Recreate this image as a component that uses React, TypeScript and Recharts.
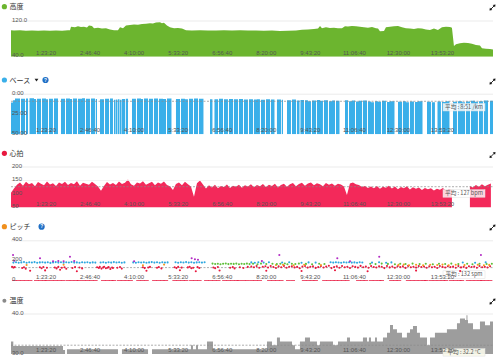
import React from "react";
import { ComposedChart, ScatterChart, Area, Scatter, XAxis, YAxis, ReferenceLine } from "recharts";

type P = [number, number];

// time unit: 100 seconds
const TIME_TICKS = [50, 100, 150, 200, 250, 300, 350, 400, 450, 500];
const X_DOMAIN: [number, number] = [10.28, 557.3];

const elevation: P[] = [[10.3,99],[13.7,98.5],[20.5,99],[27.3,98],[34.1,98.5],[41.0,98],[47.7,98.5],[54.5,98],[61.3,98.7],[68.2,98],[75.0,99],[77.2,99.5],[78.4,107],[82.9,106],[86.3,108],[89.7,106.5],[93.1,107],[96.5,105.5],[98.8,110],[102.2,109],[104.5,104],[109.0,105],[113.5,103],[118.1,103.5],[122.6,101],[127.2,99],[131.7,99.5],[134.0,106],[137.4,104],[140.8,110],[145.3,111],[149.9,112],[154.4,111.5],[159.0,113],[163.5,114],[168.0,115],[171.4,114.5],[174.8,116.5],[179.4,117],[181.6,115],[183.9,116],[187.3,110],[190.7,106],[195.3,104],[199.8,104.5],[204.3,103],[208.9,99],[215.7,98.5],[224.8,99],[233.8,98.5],[243.0,98.8],[252.0,99],[261.1,98.6],[270.2,99],[279.2,98.5],[288.3,98.7],[297.4,98],[306.5,98.5],[315.5,97.5],[324.6,98],[333.7,98.5],[340.5,100.5],[347.3,101],[354.1,102],[358.7,103],[361.0,109],[363.2,104],[367.7,106],[372.3,104.5],[376.8,105],[381.4,103.5],[385.9,104],[389.3,108],[392.7,107.5],[397.2,109],[401.8,108],[406.3,107],[410.9,106],[415.4,105],[420.0,106.5],[424.5,104],[426.8,103],[429.0,97],[433.6,97.5],[435.8,106],[440.4,107],[444.9,108],[449.5,109],[454.0,106],[458.5,104],[463.1,103],[467.6,102],[472.1,104],[476.7,103],[481.2,101],[485.8,100],[490.3,103],[494.8,100],[499.4,106],[503.9,107],[508.5,106.5],[510.7,105],[513.0,64],[515.3,68],[519.8,70],[524.3,71],[528.9,70.5],[533.4,69],[538.0,66],[542.5,65],[544.8,59],[549.3,58],[553.9,57.5],[557.3,56]];

// pace in seconds per km (3000 = 50:00, i.e. stopped)
const pace: P[] = [[10.3,620],[12.6,450],[14.8,330],[20.5,3000],[21.6,350],[26.2,3000],[27.3,330],[29.6,3000],[31.3,310],[36.4,360],[38.7,3000],[39.8,340],[44.3,3000],[45.5,320],[50.0,380],[52.3,3000],[53.4,340],[57.9,3000],[59.1,330],[63.6,3000],[67.0,350],[71.6,3000],[72.7,330],[77.2,360],[79.5,3000],[80.6,320],[85.2,3000],[86.3,340],[90.9,310],[94.3,3000],[95.4,350],[99.9,3000],[101.1,330],[105.6,3000],[106.5,360],[107.9,3000],[111.3,380],[115.8,3000],[117.0,350],[121.5,3000],[122.6,330],[126.0,3000],[127.2,420],[128.9,3000],[129.4,400],[131.1,3000],[131.7,380],[133.4,3000],[134.0,420],[135.7,3000],[136.2,360],[139.7,3000],[140.6,350],[143.1,3000],[147.6,340],[152.1,3000],[153.3,330],[157.8,360],[160.1,3000],[161.2,320],[165.8,3000],[166.9,350],[171.4,3000],[172.6,330],[177.1,3000],[178.2,340],[182.8,360],[186.2,3000],[187.3,320],[192.4,3000],[197.5,360],[202.1,3000],[203.2,340],[207.7,370],[211.1,3000],[212.3,350],[216.8,3000],[218.0,330],[222.5,3000],[223.6,350],[228.7,3000],[236.1,380],[238.9,3000],[241.2,370],[245.2,3000],[246.3,350],[250.9,3000],[252.0,380],[256.5,3000],[257.7,360],[262.2,3000],[263.3,380],[267.9,3000],[269.0,360],[273.6,3000],[274.7,390],[279.2,3000],[280.4,370],[284.9,3000],[286.0,400],[289.4,380],[292.8,3000],[294.0,420],[298.5,3000],[299.7,380],[304.2,3000],[305.3,400],[309.3,3000],[312.1,390],[316.7,3000],[317.6,420],[319.0,3000],[323.5,450],[328.0,3000],[329.2,400],[333.7,3000],[334.8,470],[337.7,3000],[338.8,430],[342.8,3000],[343.9,460],[347.3,520],[350.7,3000],[351.9,480],[356.4,3000],[357.5,440],[360.9,500],[364.3,3000],[365.5,460],[370.0,3000],[371.2,520],[374.6,470],[378.0,3000],[379.1,500],[383.1,3000],[389.3,450],[392.7,3000],[393.9,520],[397.3,480],[400.7,3000],[401.8,550],[405.2,500],[408.6,3000],[409.7,470],[414.3,3000],[415.4,540],[418.8,600],[422.2,3000],[423.4,520],[426.8,560],[430.2,3000],[431.3,500],[435.8,3000],[437.0,580],[440.4,520],[445.5,3000],[449.5,560],[454.0,3000],[455.1,520],[458.5,600],[461.9,3000],[463.1,540],[467.6,3000],[468.7,580],[472.1,520],[477.3,3000],[482.4,560],[486.9,3000],[488.0,600],[491.4,3000],[494.3,540],[498.2,3000],[499.4,580],[503.9,520],[507.9,3000],[511.9,560],[516.4,3000],[517.5,520],[522.1,600],[525.5,3000],[526.6,540],[531.2,3000],[532.3,500],[536.8,560],[540.2,3000],[541.4,520],[545.9,3000],[547.0,480],[551.6,3000],[553.9,500],[557.3,500]];

const HR_START = 10.28;
const HR_STEP = 3.404;
const hrValues: (number | null)[] = [
  105,120,134,143,131,145,136,141,129,144,
  138,132,146,135,140,130,143,137,145,133,
  141,136,147,131,142,138,134,145,137,128,
  112,130,144,135,141,133,146,137,142,154,
  136,131,143,139,147,134,140,145,132,143,
  138,146,133,129,115,137,143,132,145,136,
  128,90,140,150,135,120,132,124,134,121,
  130,126,135,122,131,127,134,123,132,128,
  136,125,133,129,137,126,134,130,138,124,
  133,138,127,136,141,129,137,142,131,139,
  143,132,140,136,129,141,134,139,131,138,
  135,128,96,139,143,136,133,126,130,122,
  128,121,130,119,127,123,131,120,128,118,
  126,121,129,117,125,119,124,115,122,118,
  121,113,119,116,122,112,118,114,
  null,null,null,null,null,
  130,124,133,127,136,129,134,139];

const cadBlue: P[] = [[13,182],[16,186],[19,180],[22,184],[25,188],[28,181],[31,185],[34,183],[37,187],[40,180],[43,184],[46,186],[49,182],[52,185],[55,179],[58,184],[61,187],[64,182],[67,185],[70,181],[73,186],[76,183],[79,188],[82,182],[85,184],[88,180],[91,186],[94,183],[97,185],[100,181],[103,184],[106,182],[112,183],[115,186],[118,181],[121,185],[124,182],[127,187],[130,183],[133,185],[136,180],[139,184],[149,184],[152,181],[155,186],[158,183],[161,185],[164,180],[167,184],[170,187],[173,182],[176,185],[179,181],[182,186],[185,183],[188,184],[197,185],[200,181],[203,186],[206,183],[209,187],[212,182],[215,185],[218,180],[221,184],[224,186],[227,182],[230,185],[283,184],[287,180],[291,186],[297,182],[303,185],[318,183],[326,186],[340,181],[348,184],[356,182],[373,185],[376,182],[379,186],[382,183],[385,181],[388,185],[391,183],[394,186],[397,182],[400,184],[403,181],[406,185],[409,183],[420,182],[428,185],[436,181],[442,184],[523,183],[537,181],[549,185]];
const cadGreen: P[] = [[239,172],[242,168],[245,171],[248,166],[251,170],[254,173],[257,167],[260,171],[263,169],[266,172],[269,166],[272,170],[275,168],[278,172],[281,167],[285,170],[290,166],[294,172],[300,168],[307,171],[312,167],[316,170],[321,173],[324,166],[329,171],[333,168],[337,172],[345,169],[352,166],[360,171],[366,168],[418,170],[424,167],[431,172],[438,169],[446,166],[452,171],[458,168],[466,172],[474,167],[481,170],[489,166],[496,171],[503,168],[510,172],[518,167],[528,170],[534,166],[542,171],[550,168],[556,170]];
const cadOrange: P[] = [[28,158],[70,160],[160,156],[184,162],[311,158],[319,160],[331,155],[343,161],[362,157],[450,159],[456,162],[462,156],[470,160],[478,155],[486,161],[494,158],[500,162],[507,156],[515,160],[525,157],[540,161],[547,155],[553,159]];
const cadPurple: P[] = [[12.6,258],[14,200],[43.2,225],[58,196],[64,198],[70,195],[77.2,241],[82,197],[150,196],[215.3,225],[219,215],[222.5,210],[295,197],[314.8,258],[380.6,225],[395,196],[428.2,241],[543.6,258]];
const cadRed: P[] = [[11.5,140],[13,132],[14.5,137],[23,128],[25,135],[27,120],[32,100],[43,135],[45,126],[47,138],[49,104],[51,131],[60,133],[62,124],[64,139],[66,110],[68,130],[71,136],[73,120],[80,128],[83,137],[85,96],[88,133],[91,124],[108,136],[110,128],[111,139],[113,122],[115,134],[116,140],[118,126],[120,131],[121,137],[123,118],[125,133],[126,128],[131,130],[134,138],[136,122],[160,135],[162,127],[164,100],[166,133],[168,139],[176,131],[178,138],[181,124],[196,136],[198,127],[200,139],[202,106],[204,132],[211,134],[213,140],[215,125],[217,131],[220,96],[222,137],[224,128],[240,133],[242,126],[245,138],[247,103],[259,131],[262,137],[264,124],[270,135],[274,128],[279,139],[283,142],[286,135],[289,147],[292,130],[296,140],[299,145],[300,100],[302,133],[305,148],[308,138],[311,128],[314,144],[317,136],[320,149],[323,131],[326,141],[329,146],[332,134],[335,139],[338,126],[340,98],[341,143],[344,148],[347,132],[350,140],[353,145],[356,129],[359,137],[362,147],[365,133],[368,142],[371,150],[374,127],[377,138],[378,105],[380,144],[383,131],[386,148],[389,135],[392,141],[395,128],[398,146],[401,139],[404,132],[407,149],[410,136],[413,143],[415,95],[416,130],[419,147],[422,138],[425,133],[428,145],[431,140],[434,127],[437,148],[440,134],[443,142],[446,131],[449,146],[452,137],[455,144],[458,129],[461,149],[464,135],[467,141],[470,132],[470,102],[473,147],[476,138],[479,143],[482,130],[485,146],[488,136],[491,141],[494,128],[497,148],[500,139],[503,133],[506,145],[509,137],[512,142],[515,130],[518,147],[520,97],[521,134],[524,140],[527,129],[530,146],[533,138],[536,143],[539,131],[542,148],[545,136],[548,141],[551,133],[554,145]];
const cadZero: P[] = [[14,0],[18.5,0],[23,0],[27.5,0],[32,0],[39,0],[43.5,0],[48,0],[51,0],[56,0],[60.5,0],[65,0],[69.5,0],[75,0],[79.5,0],[84,0],[87.5,0],[92.5,0],[97,0],[101.5,0],[106,0],[115,0],[119.5,0],[124,0],[127,0],[133,0],[137.5,0],[142,0],[146,0],[155,0],[159.5,0],[164,0],[173,0],[177.5,0],[182,0],[186,0],[196,0],[200.5,0],[205,0],[209,0],[215,0],[219.5,0],[224,0],[232,0],[236.5,0],[241,0],[245.5,0],[252.5,0],[257,0],[261.5,0],[266,0],[269,0],[274,0],[278.5,0],[283.5,0],[288,0],[292.5,0],[303.5,0],[308,0],[312.5,0],[317,0],[325,0],[330,0],[343,0],[347.5,0],[352,0],[356,0],[366,0],[370.5,0],[375,0],[379,0],[383,0],[387.5,0],[392,0],[404.5,0],[409,0],[413,0],[419,0],[423.5,0],[428,0],[431,0],[442,0],[446.5,0],[450.5,0],[461,0],[465.5,0],[470,0],[474.5,0],[479,0],[481.5,0],[487,0],[491.5,0],[496,0],[500.5,0],[504,0],[510,0],[514.5,0],[519,0],[522,0],[529,0],[533.5,0],[538,0],[542.5,0],[545,0],[549.5,0],[554,0]];

const temperature: P[] = [[10.3,33.1],[12.9,32.0],[69.3,31.0],[71.6,30],[73.8,31.2],[131.7,30],[136.2,31.2],[165.8,30],[170.3,31.2],[214.5,32.2],[216.8,31.2],[220.2,32.2],[222.5,31.2],[232.7,33.1],[239.5,31.2],[300.8,33.1],[306.5,32.2],[312.1,34.1],[315.5,33.1],[329.2,32.2],[332.6,31.2],[338.2,33.1],[343.9,34.1],[349.6,33.1],[357.5,32.2],[360.9,33.1],[375.7,32.2],[381.4,33.1],[391.6,34.1],[395.0,33.1],[409.7,34.1],[414.3,33.1],[416.5,34.1],[418.8,33.1],[423.4,34.1],[425.6,33.1],[432.4,34.1],[437.0,35.3],[440.4,37.25],[443.8,36.2],[448.3,35.3],[454.0,34.1],[459.6,35.3],[463.1,36.2],[466.5,37.0],[471.0,35.3],[474.4,34.1],[482.4,32.2],[485.8,34.1],[491.4,35.3],[505.0,36.2],[516.4,37.7],[519.8,38.9],[525.5,38.5],[527.2,39.7],[528.3,38.5],[528.9,37.7],[534.6,36.2],[542.5,38.1],[548.2,37.2],[553.9,38.1],[557.3,38.1]];

const AVG_PACE = 531;
const AVG_HR = 127;
const AVG_CAD = 132;
const AVG_TEMP = 32.2;

const toObj = (a: P[]) => a.map(([t, v]) => ({ t, v }));
const elevData = toObj(elevation);
const paceData = toObj(pace);
const hrData = hrValues.map((v, i) => ({ t: HR_START + i * HR_STEP, v }));
const tempData = toObj(temperature);

const FONT = "'Liberation Sans', Arial, sans-serif";
const CJK = "'Noto Sans CJK JP', 'Noto Sans', sans-serif";

const fmtTime = (t: number) => {
  const s = Math.round(t * 100);
  const h = Math.floor(s / 3600);
  const m = Math.floor((s % 3600) / 60);
  const ss = s % 60;
  return `${h}:${String(m).padStart(2, "0")}:${String(ss).padStart(2, "0")}`;
};
const fmtPace = (v: number) => `${Math.floor(v / 60)}:${String(Math.round(v % 60)).padStart(2, "0")}`;

const XTick = (props: any) => (
  <text x={props.x} y={props.y - 1.8} textAnchor="middle" fontSize={6} fill="#555" fontFamily={FONT}>
    {fmtTime(props.payload.value)}
  </text>
);
const yTick = (fmt: (v: number) => string) => (props: any) => (
  <text x={props.x} y={props.y + 0.6} textAnchor="start" fontSize={6} fill="#555" fontFamily={FONT}>
    {fmt(props.payload.value)}
  </text>
);

const avgLabel = (text: string, dy: number, bg: string) => (props: any) => {
  const vb = props.viewBox || { x: 0, y: 0, width: 0 };
  const right = vb.x + vb.width;
  const y = vb.y + dy;
  return (
    <g>
      <rect x={right - 50} y={y} width={42} height={7.5} fill={bg} stroke="#e0e0e0" strokeWidth={0.5} />
      <text x={right - 29} y={y + 5.6} textAnchor="middle" fontSize={5.6} fill="#555" fontFamily={CJK}>{text}</text>
    </g>
  );
};

const W = 500;
const H = 359;
const LEFT = 11;
const RIGHT = 7;

const xAxis = (
  <XAxis dataKey="t" type="number" domain={X_DOMAIN} ticks={TIME_TICKS} interval={0} tick={XTick} mirror
    tickLine={false} axisLine={false} tickSize={0} tickMargin={0} allowDataOverflow />
);

const abs: React.CSSProperties = { position: "absolute", left: 0, top: 0 };

const ExpandIcon = ({ x, y }: { x: number; y: number }) => (
  <g transform={`translate(${x},${y})`}>
    <path d="M-2,2 L2,-2" stroke="#111" strokeWidth={0.9} />
    <path d="M3,-3 L0.2,-2.6 L2.6,-0.2 Z" fill="#111" />
    <path d="M-3,3 L-0.2,2.6 L-2.6,0.2 Z" fill="#111" />
  </g>
);
const Help = ({ x, y }: { x: number; y: number }) => (
  <g>
    <circle cx={x} cy={y} r={3.1} fill="#1f6fc5" />
    <text x={x} y={y + 1.7} textAnchor="middle" fontSize={4.8} fontWeight="bold" fill="#fff" fontFamily={FONT}>?</text>
  </g>
);
const Title = ({ y, color, text, r = 2.6 }: { y: number; color: string; text: string; r?: number }) => (
  <g>
    <circle cx={4.4} cy={y} r={r} fill={color} />
    <text x={9.6} y={y + 2.5} fontSize={7} fill="#333" fontFamily={CJK}>{text}</text>
  </g>
);

const dot = (color: string) => (p: any) => <circle cx={p.cx} cy={p.cy} r={1.05} fill={color} />;
const dash = (color: string) => (p: any) => <rect x={p.cx - 2.3} y={p.cy - 0.8} width={4.6} height={1.6} fill={color} />;

const yAxisCommon = {
  type: "number" as const, interval: 0, mirror: true, tickLine: false, axisLine: false,
  tickSize: 0, tickMargin: 1, allowDataOverflow: true,
};

export default function App() {
  return (
    <div style={{ position: "absolute", left: 0, top: 0, width: W, height: H, background: "#fff" }}>
      {/* 高度 */}
      <div style={abs}>
        <ComposedChart width={W} height={H} data={elevData} margin={{ top: 21, bottom: H - 56.7, left: LEFT, right: RIGHT }}>
          <ReferenceLine y={120} stroke="#e6e6e6" strokeWidth={0.8} />
          <Area dataKey="v" type="linear" fill="#6cb52f" fillOpacity={1} stroke="none" isAnimationActive={false} />
          {xAxis}
          <YAxis {...yAxisCommon} domain={[40, 120]} ticks={[40, 120]} tick={yTick((v) => v.toFixed(1))} />
        </ComposedChart>
      </div>
      {/* ペース */}
      <div style={abs}>
        <ComposedChart width={W} height={H} data={paceData} margin={{ top: 94.2, bottom: H - 134.2, left: LEFT, right: RIGHT }}>
          <ReferenceLine y={0} stroke="#e6e6e6" strokeWidth={0.8} />
          <Area dataKey="v" type="stepAfter" baseValue={3000} fill="#3aafe9" fillOpacity={1} stroke="none" isAnimationActive={false} />
          {xAxis}
          <YAxis {...yAxisCommon} reversed domain={[0, 3000]} ticks={[0, 1500, 3000]} tick={yTick(fmtPace)} />
          <ReferenceLine y={AVG_PACE} stroke="#8a8a8a" strokeWidth={0.7} strokeDasharray="2 1.5"
            label={avgLabel("平均 : 8:51 /km", 2.2, "rgba(255,255,255,0.8)")} />
        </ComposedChart>
      </div>
      {/* 心拍 */}
      <div style={abs}>
        <ComposedChart width={W} height={H} data={hrData} margin={{ top: 167, bottom: H - 207.5, left: LEFT, right: RIGHT }}>
          <ReferenceLine y={200} stroke="#e6e6e6" strokeWidth={0.8} />
          <ReferenceLine y={150} stroke="#f0f0f0" strokeWidth={0.8} />
          <Area dataKey="v" type="linear" fill="#f3295a" fillOpacity={1} stroke="none" connectNulls={false} isAnimationActive={false} />
          {xAxis}
          <YAxis {...yAxisCommon} domain={[50, 200]} ticks={[50, 100, 150, 200]} tick={yTick((v) => String(v))} />
          <ReferenceLine y={AVG_HR} stroke="#8a8a8a" strokeWidth={0.7} strokeDasharray="2 1.5"
            label={avgLabel("平均 : 127 bpm", 3, "rgba(255,255,255,0.8)")} />
        </ComposedChart>
      </div>
      {/* ピッチ */}
      <div style={abs}>
        <ScatterChart width={W} height={H} margin={{ top: 240.8, bottom: H - 280.8, left: LEFT, right: RIGHT }}>
          <ReferenceLine y={400} stroke="#e6e6e6" strokeWidth={0.8} />
          {xAxis}
          <YAxis {...yAxisCommon} dataKey="v" domain={[0, 400]} ticks={[0, 200, 400]} tick={yTick((v) => String(v))} />
          <Scatter data={toObj(cadZero)} shape={dash("#e8193f")} isAnimationActive={false} />
          <Scatter data={toObj(cadRed)} shape={dot("#e8193f")} isAnimationActive={false} />
          <Scatter data={toObj(cadOrange)} shape={dot("#f39a1e")} isAnimationActive={false} />
          <Scatter data={toObj(cadGreen)} shape={dot("#5fbf3a")} isAnimationActive={false} />
          <Scatter data={toObj(cadBlue)} shape={dot("#2ea7df")} isAnimationActive={false} />
          <Scatter data={toObj(cadPurple)} shape={dot("#b32cc4")} isAnimationActive={false} />
          <ReferenceLine y={AVG_CAD} stroke="#8a8a8a" strokeWidth={0.7} strokeDasharray="2 1.5"
            label={avgLabel("平均 : 132 spm", 3.2, "rgba(255,255,255,0.7)")} />
        </ScatterChart>
      </div>
      {/* 温度 */}
      <div style={abs}>
        <ComposedChart width={W} height={H} data={tempData} margin={{ top: 314, bottom: H - 354, left: LEFT, right: RIGHT }}>
          <ReferenceLine y={40} stroke="#e6e6e6" strokeWidth={0.8} />
          <Area dataKey="v" type="stepAfter" fill="#9d9d9d" fillOpacity={1} stroke="none" isAnimationActive={false} />
          {xAxis}
          <YAxis {...yAxisCommon} domain={[30, 40]} ticks={[30, 40]} tick={yTick((v) => v.toFixed(1))} />
          <ReferenceLine y={AVG_TEMP} stroke="#8a8a8a" strokeWidth={0.7} strokeDasharray="2 1.5"
            label={avgLabel("平均 : 32.2 °C", 3.4, "rgba(250,250,235,0.9)")} />
        </ComposedChart>
      </div>
      {/* titles & icons */}
      <svg width={W} height={H} style={{ ...abs, pointerEvents: "none" }}>
        <Title y={6.7} color="#6cb52f" text="高度" />
        <Title y={80} color="#3aafe9" text="ベース" />
        <path d="M34.6,78.8 L38.4,78.8 L36.5,81.4 Z" fill="#222" />
        <Help x={45.5} y={80} />
        <Title y={153.3} color="#e8193f" text="心拍" />
        <Title y={226.7} color="#f0901e" text="ピッチ" />
        <Help x={41.6} y={226.7} />
        <Title y={300.7} color="#8a8a8a" text="温度" r={2} />
        <ExpandIcon x={492.5} y={7.5} />
        <ExpandIcon x={492.5} y={81.5} />
        <ExpandIcon x={492.5} y={155} />
        <ExpandIcon x={492.5} y={227.5} />
        <ExpandIcon x={492.5} y={301.5} />
      </svg>
    </div>
  );
}
